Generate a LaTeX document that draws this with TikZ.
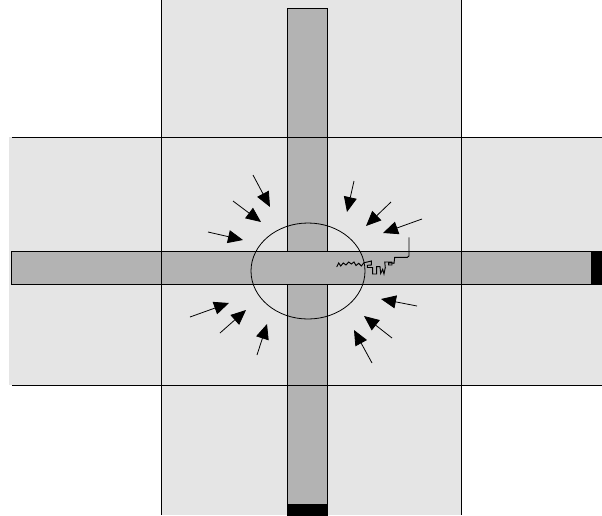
\documentclass[tikz,border=0pt]{standalone}
\usetikzlibrary{arrows.meta}
\definecolor{bgray}{HTML}{E5E5E5}
\definecolor{bargray}{HTML}{B3B3B3}
\begin{document}
\begin{tikzpicture}[x=1pt,y=-1pt,
  edge/.style={line width=0.9pt},
  barstyle/.style={fill=bargray,draw=black,line width=0.9pt},
  push/.style={line width=0.8pt,-{Triangle[length=15pt,width=13pt]}},
  crack/.style={line width=0.95pt,line join=miter}]
\useasboundingbox (0,0) rectangle (602,515);
% light gray cross background
\fill[bgray] (161,0) rectangle (461,515);
\fill[bgray] (9,137) rectangle (602,385);
% vertical bar
\draw[barstyle] (287,8) rectangle (327,515);
\fill[black] (287,504) rectangle (327,515);
% horizontal bar
\draw[barstyle] (11,251) rectangle (602,284);
\fill[black] (591,251) rectangle (602,284);
% grid lines
\draw[edge] (161,0) -- (161,515);
\draw[edge] (461,0) -- (461,515);
\draw[edge] (12,137) -- (602,137);
\draw[edge] (12,385) -- (602,385);
% ellipse
\draw[line width=0.8pt] (308,271) ellipse [x radius=57, y radius=48];
% crack
\draw[crack] (336.7,267) -- (338.7,263) -- (340.7,266) -- (343.3,263) -- (346,265)
  -- (348.7,262) -- (351.3,264) -- (354,262) -- (356,265.5) -- (358.7,263.3)
  -- (361.3,266) -- (364,262.7) -- (367.3,262) -- (371.3,261) -- (371.3,265)
  -- (367.3,265.3) -- (367.3,267.5) -- (372.7,267.5) -- (372.7,274) -- (376.7,274)
  -- (376.7,266.7) -- (380,266.7) -- (380.7,273.5) -- (382.7,269.3) -- (384,274)
  -- (385.3,267.3) -- (384.7,262) -- (392,262) -- (392,265) -- (388.7,265)
  -- (388.7,262.7) -- (394,263.3) -- (394.7,257.3) -- (407.3,257.3) -- (409,256)
  -- (409,237.3);
% arrows (upper left)
\draw[push] (253,175) -- (270,207);
\draw[push] (233,201) -- (261,222);
\draw[push] (208,232) -- (243,240);
% arrows (upper right)
\draw[push] (354,181) -- (347,212);
\draw[push] (391,202) -- (366,226);
\draw[push] (422,219) -- (383,233);
% arrows (lower left)
\draw[push] (190,317) -- (229,303);
\draw[push] (220,333) -- (246,310);
\draw[push] (257,355) -- (267,324);
% arrows (lower right)
\draw[push] (417,306) -- (381,299);
\draw[push] (392,338) -- (364,316);
\draw[push] (372,363) -- (354,330);
\end{tikzpicture}
\end{document}
